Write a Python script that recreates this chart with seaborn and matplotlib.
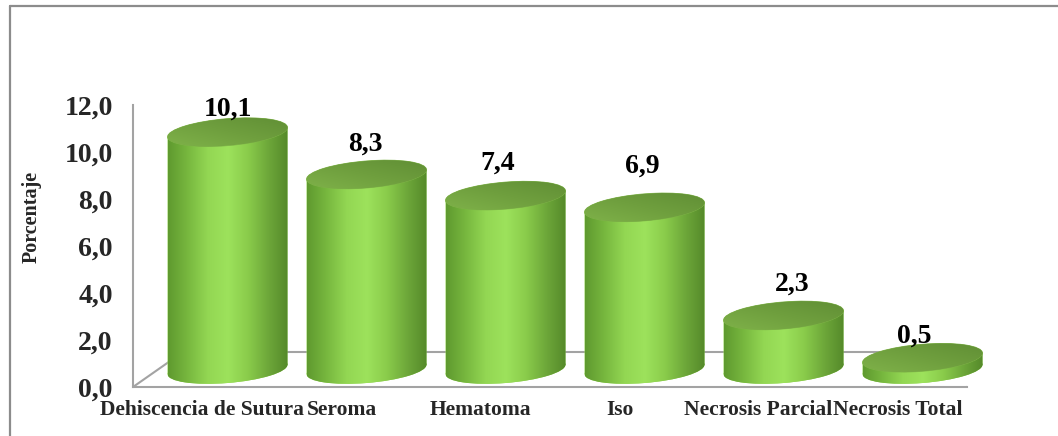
import numpy as np
import pandas as pd
import matplotlib
matplotlib.use("Agg")
import matplotlib.pyplot as plt
import seaborn as sns
from matplotlib.patches import Ellipse
from matplotlib.lines import Line2D
from matplotlib.transforms import Affine2D, IdentityTransform
from matplotlib.colors import LinearSegmentedColormap

# ---------------- data ----------------
categories = ["Dehiscencia de Sutura", "Seroma", "Hematoma", "Iso",
              "Necrosis Parcial", "Necrosis Total"]
values = [10.1, 8.3, 7.4, 6.9, 2.3, 0.5]
value_labels = ["10,1", "8,3", "7,4", "6,9", "2,3", "0,5"]
ytick_values = [0, 2, 4, 6, 8, 10, 12]
ytick_labels = ["0,0", "2,0", "4,0", "6,0", "8,0", "10,0", "12,0"]
y_title = "Porcentaje"

# ---------------- layout / style ----------------
W, H = 1058, 436
DEPTH = (50, 35)            # 3D depth offset of floor (px)
TILT = 4.5                  # perspective tilt of cylinder caps (deg)
ELL_H_PX = 27               # cap ellipse height (px)
label_dx = [0, -1, -8, -2, 9, -8]      # data label nudges (px)
label_lift = [16, 24, 26, 35, 25, 15]  # baseline above cap centre (px)
GREY = "#a3a3a3"

body_cmap = LinearSegmentedColormap.from_list(
    "body", ["#5f9a2f", "#78b83f", "#93d753", "#9de25c", "#8acc4b", "#6ea83a", "#558a2a"])
top_cmap = LinearSegmentedColormap.from_list(
    "top", ["#80b34a", "#6f9f3e", "#5f8d34"])

sns.set_style("white")
plt.rcParams["font.family"] = ["Liberation Serif", "DejaVu Serif"]
plt.rcParams["font.weight"] = "bold"

fig = plt.figure(figsize=(W / 100, H / 100), dpi=100)
ax = fig.add_axes([133 / W, (H - 387) / H, (967 - 133) / W, (387 - 105) / H])

df = pd.DataFrame({"Categoria": categories, "Porcentaje": values})
sns.barplot(data=df, x="Categoria", y="Porcentaje", ax=ax, width=0.863,
            color="#8fd050", saturation=1, edgecolor="none", linewidth=0,
            zorder=3)

XLIM = (-0.5, len(categories) - 0.5)
YLIM = (ytick_values[0], ytick_values[-1])
ax.set_xlim(*XLIM)
ax.set_ylim(*YLIM)

px_per_unit = ax.transData.transform((0, 1))[1] - ax.transData.transform((0, 0))[1]
eh = ELL_H_PX / px_per_unit

grad_body = np.linspace(0, 1, 256).reshape(1, -1)
gx, gy = np.meshgrid(np.linspace(0, 1, 64), np.linspace(0, 1, 16))
grad_top = 0.6 * gx + 0.4 * (1 - gy)


def clipped_image(arr, cmap, extent, T, z, clip_patch, origin="lower"):
    im = ax.imshow(arr, cmap=cmap, extent=extent, aspect="auto", transform=T,
                   zorder=z, interpolation="bilinear", origin=origin)
    im.set_clip_on(True)
    im.set_clip_box(fig.bbox)
    im.set_clip_path(clip_patch.get_path(), clip_patch.get_transform())
    return im


bars = list(ax.patches)
for i, p in enumerate(bars):
    x0, w, v = p.get_x(), p.get_width(), p.get_height()
    xc = x0 + w / 2
    xc_px = ax.transData.transform((xc, 0))[0]
    T = ax.transData + Affine2D().translate(-xc_px, 0).skew_deg(0, TILT).translate(
        xc_px + DEPTH[0] / 2, DEPTH[1] / 2)
    p.set_transform(T)
    p.set_clip_on(False)

    bottom = Ellipse((xc, 0), w, eh, transform=T, facecolor="#8fd050",
                     edgecolor="none", zorder=3, clip_on=False)
    ax.add_patch(bottom)
    for clip in (p, bottom):
        clipped_image(grad_body, body_cmap, (x0, x0 + w, -eh, v), T, 3.2, clip)

    top = Ellipse((xc, v), w, eh, transform=T, facecolor="#6f9f3e",
                  edgecolor="#7fb548", linewidth=0.6, zorder=4, clip_on=False)
    ax.add_patch(top)
    clipped_image(grad_top, top_cmap, (x0, x0 + w, v - eh / 2, v + eh / 2), T, 4.1,
                  top, origin="upper")

    ax.annotate(value_labels[i], xy=(xc, v), xycoords=T,
                xytext=(label_dx[i], label_lift[i]), textcoords="offset pixels",
                ha="center", va="baseline", fontsize=20, fontweight="bold",
                color="black", zorder=6, annotation_clip=False)

ax.set_xlim(*XLIM)
ax.set_ylim(*YLIM)

# floor (back and side edges)
fl = ax.transData.transform((XLIM[0], 0))
fr = ax.transData.transform((XLIM[1], 0))
bl = fl + np.array(DEPTH)
br = fr + np.array(DEPTH)
floor = Line2D([fl[0], bl[0], br[0], fr[0]], [fl[1], bl[1], br[1], fr[1]],
               transform=IdentityTransform(), color=GREY, lw=1.5, zorder=1)
ax.add_artist(floor)

# axes styling
for s in ("top", "right"):
    ax.spines[s].set_visible(False)
for s in ("left", "bottom"):
    ax.spines[s].set_color(GREY)
    ax.spines[s].set_linewidth(1.5)
    ax.spines[s].set_zorder(1)

ax.set_yticks(ytick_values, labels=ytick_labels)
ax.tick_params(axis="y", direction="out", length=4.5, width=1.2, color=GREY,
               pad=10, labelsize=20)
ax.set_xticks(range(len(categories)), labels=categories)
ax.set_xticks(np.arange(len(categories) + 1) - 0.5, minor=True)
ax.tick_params(axis="x", which="major", length=0, pad=9, labelsize=15.5)
ax.tick_params(axis="x", which="minor", length=3.5, width=1.2, color=GREY)
for t in ax.get_xticklabels() + ax.get_yticklabels():
    t.set_fontweight("bold")
ax.set_xlabel("")
ax.set_ylabel("")
ax.patch.set_alpha(0)

fig.text(32 / W, 1 - 217 / H, y_title, rotation=90, ha="center", va="center",
         fontsize=14.5, fontweight="bold")

# outer chart frame (partially visible)
fig.add_artist(Line2D([9.5 / W, 9.5 / W], [0, 1 - 6.5 / H], transform=fig.transFigure,
                      color="#8c8c8c", lw=1.6))
fig.add_artist(Line2D([9.5 / W, 1], [1 - 6.5 / H, 1 - 6.5 / H], transform=fig.transFigure,
                      color="#8c8c8c", lw=1.6))

fig.savefig("out.png", dpi=100)
